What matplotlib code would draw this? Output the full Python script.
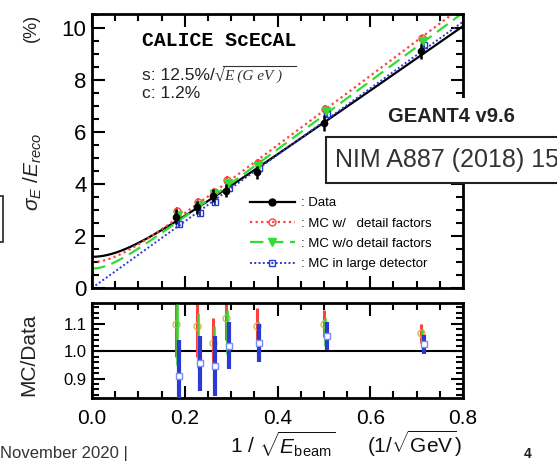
import matplotlib
matplotlib.use('Agg')
import matplotlib.pyplot as plt
import numpy as np
from matplotlib.ticker import MultipleLocator
from matplotlib.lines import Line2D
from matplotlib.patches import Rectangle

plt.rcParams['font.family'] = ['Liberation Sans', 'DejaVu Sans']
plt.rcParams['mathtext.fontset'] = 'custom'
plt.rcParams['mathtext.rm'] = 'Liberation Sans'
plt.rcParams['mathtext.it'] = 'Liberation Sans:italic'
plt.rcParams['mathtext.bf'] = 'Liberation Sans:bold'
plt.rcParams['mathtext.sf'] = 'Liberation Sans'

# ---------------- data ----------------
x_beam = [0.182, 0.226, 0.260, 0.290, 0.355, 0.500, 0.709]
data_res = [2.75, 3.10, 3.55, 3.75, 4.45, 6.35, 9.10]
data_err = [0.30, 0.25, 0.25, 0.25, 0.25, 0.30, 0.30]
mc_detail = [2.95, 3.30, 3.70, 4.15, 4.80, 6.90, 9.60]
mc_nodetail = [2.80, 3.20, 3.60, 4.05, 4.70, 6.80, 9.50]
mc_large = [2.45, 2.90, 3.30, 3.85, 4.60, 6.70, 9.35]
mc_err = [0.15, 0.15, 0.15, 0.15, 0.15, 0.15, 0.15]

# fit parameters  sigma/E = s/sqrt(E) (+) c
fit_s = [12.5, 13.5, 13.2, 12.8]
fit_c = [1.2, 1.0, 0.75, 0.0]

ratio_detail = [1.10, 1.09, 1.03, 1.12, 1.09, 1.10, 1.065]
ratio_detail_err = [0.12, 0.11, 0.09, 0.08, 0.065, 0.05, 0.035]
ratio_nodetail = [1.06, 1.04, 1.00, 1.07, 1.05, 1.07, 1.045]
ratio_nodetail_err = [0.11, 0.10, 0.09, 0.08, 0.06, 0.05, 0.035]
ratio_large = [0.91, 0.955, 0.945, 1.02, 1.03, 1.055, 1.025]
ratio_large_err = [0.13, 0.10, 0.11, 0.085, 0.07, 0.05, 0.035]

labels = [': Data', ': MC w/   detail factors', ': MC w/o detail factors',
          ': MC in large detector']

# ---------------- style ----------------
RED = '#ff4040'
GREEN = '#30dd30'
BLUE = '#2b3bd0'
YEL = '#d8b850'

W, H = 557, 461
fig = plt.figure(figsize=(W / 100, H / 100), dpi=100)


def fx(px):
    return px / W


def fy(py):
    return 1 - py / H


L, R = 92, 463
ax = fig.add_axes([fx(L), fy(288), fx(R) - fx(L), fy(14) - fy(288)])
axr = fig.add_axes([fx(L), fy(398), fx(R) - fx(L), fy(303) - fy(398)])

xs = np.array(x_beam)
xx = np.linspace(0, 0.8, 400)
styles = [dict(color='k', ls='-', lw=1.6),
          dict(color=RED, ls=(0, (1, 1.5)), lw=1.6),
          dict(color=GREEN, ls=(0, (6, 3)), lw=1.6),
          dict(color=BLUE, ls=(0, (1, 1.2)), lw=1.4)]
for s, c, st in zip(fit_s, fit_c, styles):
    ax.plot(xx, np.sqrt((s * xx) ** 2 + c ** 2), **st, zorder=2)

ax.errorbar(xs + 0.002, mc_detail, yerr=mc_err, fmt='o', ms=5, mfc='none',
            mec=RED, ecolor=RED, elinewidth=1.5, zorder=3)
ax.errorbar(xs + 0.004, mc_nodetail, yerr=mc_err, fmt='v', ms=6, color=GREEN,
            ecolor=GREEN, elinewidth=1.5, zorder=4)
ax.errorbar(xs + 0.006, mc_large, yerr=mc_err, fmt='s', ms=4.5, mfc='none',
            mec=BLUE, ecolor=BLUE, elinewidth=1.5, zorder=3)
ax.errorbar(xs, data_res, yerr=data_err, fmt='o', ms=4.5, color='k',
            ecolor='k', elinewidth=1.8, zorder=5)

ax.set_xlim(0, 0.8)
ax.set_ylim(0, 10.54)
ax.yaxis.set_major_locator(MultipleLocator(2))
ax.yaxis.set_minor_locator(MultipleLocator(0.5))
ax.xaxis.set_major_locator(MultipleLocator(0.2))
ax.xaxis.set_minor_locator(MultipleLocator(0.05))
ax.tick_params(axis='both', which='both', direction='in', top=True, right=True,
               width=1.5)
ax.tick_params(which='major', length=9)
ax.tick_params(which='minor', length=5)
ax.tick_params(axis='x', labelbottom=False)
ax.tick_params(axis='y', labelsize=16, pad=4)
for sp in ax.spines.values():
    sp.set_linewidth(2)

# legend
handles = [
    Line2D([], [], color='k', lw=1.6, marker='o', ms=5),
    Line2D([], [], color=RED, ls=(0, (1, 1.5)), lw=1.6, marker='o', ms=5,
           mfc='none'),
    Line2D([], [], color=GREEN, ls=(0, (6, 3)), lw=1.6, marker='v', ms=6),
    Line2D([], [], color=BLUE, ls=(0, (1, 1.2)), lw=1.4, marker='s', ms=4.5,
           mfc='none'),
]
leg = ax.legend(handles, labels, loc='upper left',
                bbox_to_anchor=(fx(250), fy(197)),
                bbox_transform=fig.transFigure, frameon=False, fontsize=9.5,
                handlelength=3.4, handletextpad=0.45, labelspacing=0.62,
                borderpad=0, borderaxespad=0, numpoints=1)

ax.text(fx(142), fy(40), 'CALICE ScECAL', transform=fig.transFigure,
        family='Liberation Mono', fontweight='bold', fontsize=14.3,
        va='center', ha='left')
t1 = ax.text(fx(142), fy(75), 's: 12.5%/', transform=fig.transFigure,
             fontsize=12.5, va='center', ha='left', color='#222222')
fig.text(fx(215), fy(76), '\u221a', fontsize=13, va='center', ha='left',
         color='#333333', family='Liberation Serif')
fig.text(fx(224), fy(76), 'E (G eV )', fontsize=11, va='center', ha='left',
         color='#333333', family='Liberation Serif', style='italic')
fig.lines.append(Line2D([fx(223), fx(296)], [fy(66), fy(66)],
                        transform=fig.transFigure, color='#333333', lw=0.8))
ax.text(fx(142), fy(93), 'c: 1.2%', transform=fig.transFigure, fontsize=12.5,
        va='center', ha='left', color='#222222')

# ratio panel
axr.axhline(1.0, color='k', lw=1.5, zorder=1)
axr.errorbar(xs, ratio_detail, yerr=ratio_detail_err, fmt='o', ms=5,
             mfc='none', mec=YEL, ecolor=RED, elinewidth=2.2, zorder=2)
axr.errorbar(xs + 0.002, ratio_nodetail, yerr=ratio_nodetail_err, fmt='none',
             ecolor=GREEN, elinewidth=2.2, alpha=0.8, zorder=3)
axr.errorbar(xs + 0.006, ratio_large, yerr=ratio_large_err, fmt='s', ms=5,
             mfc='white', mec='#7a8cf5', ecolor=BLUE, elinewidth=3, zorder=4)
axr.set_xlim(0, 0.8)
axr.set_ylim(0.829, 1.175)
axr.yaxis.set_major_locator(MultipleLocator(0.1))
axr.yaxis.set_minor_locator(MultipleLocator(0.02))
axr.xaxis.set_major_locator(MultipleLocator(0.2))
axr.xaxis.set_minor_locator(MultipleLocator(0.05))
axr.tick_params(axis='both', which='both', direction='in', top=True,
                right=True, width=1.5)
axr.tick_params(which='major', length=9)
axr.tick_params(which='minor', length=5)
axr.tick_params(axis='y', labelsize=12, pad=4)
axr.tick_params(axis='x', labelsize=15, pad=8)
axr.set_yticks([0.9, 1.0, 1.1])
axr.set_yticklabels(['0.9', '1.0', '1.1'])
axr.set_xticks([0.0, 0.2, 0.4, 0.6, 0.8])
axr.set_xticklabels(['0.0', '0.2', '0.4', '0.6', '0.8'])
for sp in axr.spines.values():
    sp.set_linewidth(2)

# axis labels and slide text
fig.text(fx(31), fy(28), '(%)', rotation=90, fontsize=13, ha='center',
         va='center', color='#222222')
fig.text(fx(33), fy(172), r'$\sigma_E\ /E_{reco}$', rotation=90, fontsize=15,
         ha='center', va='center', color='#222222')
fig.text(fx(29), fy(355), 'MC/Data', rotation=90, fontsize=15, ha='center',
         va='center', color='#222222')
fig.text(fx(283), fy(453), r'1 / $\sqrt{E_{\rm beam}}$', fontsize=15,
         ha='center', va='baseline', color='#111111')
fig.text(fx(414), fy(453), r'(1/$\sqrt{\rm GeV}$)', fontsize=15,
         ha='center', va='baseline', color='#111111')
fig.text(fx(0), fy(458), 'November 2020 |', fontsize=12, ha='left',
         va='baseline', color='#333333')
fig.text(fx(528), fy(458), '4', fontsize=10, ha='center', va='baseline',
         color='#222222', fontweight='bold')

fig.patches.append(Rectangle((fx(382), fy(137)), fx(200), fy(98) - fy(137),
                             transform=fig.transFigure, fill=True,
                             facecolor='white', edgecolor='none', zorder=9))
fig.text(fx(388), fy(117), 'GEANT4 v9.6', fontsize=14.5, fontweight='bold',
         ha='left', va='center', color='#222222', zorder=11)
fig.patches.append(Rectangle((fx(326), fy(183)), fx(250), fy(137) - fy(183),
                             transform=fig.transFigure, fill=True,
                             facecolor='white', edgecolor='#222222', lw=1.5,
                             zorder=10))
fig.text(fx(335), fy(160), 'NIM A887 (2018) 15', fontsize=18, ha='left',
         va='center', color='#333333', zorder=11)
fig.patches.append(Rectangle((fx(-20), fy(242)), fx(23), fy(196) - fy(242),
                             transform=fig.transFigure, fill=False,
                             edgecolor='#222222', lw=1.2))

fig.savefig('out.png', dpi=100)
